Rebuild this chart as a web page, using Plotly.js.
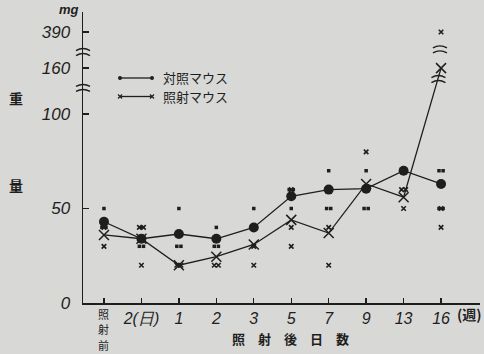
<!DOCTYPE html>
<html><head><meta charset="utf-8">
<script src="https://cdn.plot.ly/plotly-3.0.1.min.js"></script>
<style>html,body{margin:0;padding:0;background:#d8d8d6;}</style>
</head><body><div id="chart" style="width:484px;height:354px;"></div>
<script>
// ---- data (mg) ----
const categories = ['照射前','2(日)','1','2','3','5','7','9','13','16'];
const controlMean = [43, 34, 36.5, 34, 40, 56.5, 60, 60.5, 70, 63];
const irradMean   = [36, 34, 20, 24.5, 31, 44, 37, 63, 56, 160];
const controlIndiv = [[50,40,40],[40,30,30],[50,30,30],[40,30,30],[50,40],[60,60,50],[70,60,50,50],[70,60,50,50],[70,70],[70,70,50,50]];
const irradIndiv   = [[40,30],[40,40,20],[20,20],[20,20],[30,20],[60,40,30],[40,20],[80,60],[60,60,50],[40,50,390]];
const yTickVals  = [0, 50, 100, 160, 390];
const yTickText  = ['0','50','100','160','390'];
const legendNames = ['対照マウス','照射マウス'];

// broken-axis scale
function Y(v){ if (v > 300) return 143.4 + (v-390)*0.05; if (v > 130) return 124.3 + (v-160)*0.1; return v; }
const INK = '#1e1e1e';
const BG = '#d8d8d6';

function spread(groups){
  const xs=[], ys=[];
  groups.forEach((vals,i)=>{
    const cnt={}; vals.forEach(v=>cnt[v]=(cnt[v]||0)+1);
    const seen={};
    vals.forEach(v=>{
      const n=cnt[v]; const k=(seen[v]=(seen[v]||0)+1)-1;
      xs.push(i + (k-(n-1)/2)*0.11); ys.push(Y(v));
    });
  });
  return {xs, ys};
}
const ci = spread(controlIndiv), ii = spread(irradIndiv);
const idx = categories.map((c,i)=>i);

const traces = [
  {x: ci.xs, y: ci.ys, mode:'markers', type:'scatter', marker:{symbol:'square', size:3.5, color:INK}, showlegend:false},
  {x: ii.xs, y: ii.ys, mode:'markers', type:'scatter', marker:{symbol:'x-thin-open', size:4.5, line:{width:1.6,color:INK}, color:INK}, showlegend:false},
  {x: idx, y: controlMean.map(Y), mode:'lines+markers', type:'scatter', name:legendNames[0],
   line:{color:INK, width:1.3}, marker:{symbol:'circle', size:10, color:INK}, showlegend:false},
  {x: idx, y: irradMean.map(Y), mode:'lines+markers', type:'scatter', name:legendNames[1],
   line:{color:INK, width:1.3}, marker:{symbol:'x-thin-open', size:10, line:{width:1.5,color:INK}, color:INK}, showlegend:false}
];

const L=83, R=4, T=12, B=51, W=484, H=354;
const pw=W-L-R, ph=H-T-B;
const px = p => (p-L)/pw;      // pixel -> paper x
const py = p => (H-B-p)/ph;    // pixel -> paper y

function brk(xref, xa, ya){
  return [-2.5, 2.5].map(d=>({type:'path', xref:xref, yref:'y', xsizemode:'pixel', ysizemode:'pixel',
    xanchor:xa, yanchor:ya, path:`M-7,${d-1} Q0,${d+3} 7,${d-1}`, line:{color:INK,width:1.4}}));
}
const shapes = [].concat(
  brk('paper', 0, 113.8), brk('paper', 0, 132.8),
  brk('x', 8.93, 118.5), brk('x', 8.97, 134.2),
  [
    {type:'line', xref:'paper', yref:'paper', x0:px(120), x1:px(152), y0:py(78), y1:py(78), line:{color:INK,width:1.3}},
    {type:'line', xref:'paper', yref:'paper', x0:px(120), x1:px(152), y0:py(96.5), y1:py(96.5), line:{color:INK,width:1.3}},
    {type:'circle', xref:'paper', yref:'paper', xsizemode:'pixel', ysizemode:'pixel', xanchor:px(120), yanchor:py(78), x0:-2, x1:2, y0:-2, y1:2, fillcolor:INK, line:{width:0}},
    {type:'circle', xref:'paper', yref:'paper', xsizemode:'pixel', ysizemode:'pixel', xanchor:px(152), yanchor:py(78), x0:-2, x1:2, y0:-2, y1:2, fillcolor:INK, line:{width:0}},
    {type:'path', xref:'paper', yref:'paper', xsizemode:'pixel', ysizemode:'pixel', xanchor:px(120), yanchor:py(96.5), path:'M-2,-2 L2,2 M-2,2 L2,-2', line:{color:INK,width:1.2}},
    {type:'path', xref:'paper', yref:'paper', xsizemode:'pixel', ysizemode:'pixel', xanchor:px(152), yanchor:py(96.5), path:'M-2,-2 L2,2 M-2,2 L2,-2', line:{color:INK,width:1.2}}
  ]
);

const cjk = 'Noto Sans CJK JP';
const firstLabelChars = Array.from(categories[0]);
const annotations = firstLabelChars.map((ch,k)=>(
  {text:ch, xref:'x', yref:'paper', x:0, y:py(314 + k*15.5), xanchor:'center', yanchor:'middle', showarrow:false, font:{family:cjk, size:11, color:INK}}
)).concat([
  {text:'(週)', xref:'x', yref:'paper', x:9.75, y:py(314), xanchor:'center', yanchor:'middle', showarrow:false, font:{family:cjk, size:14, color:INK, weight:700}},
  {text:'照　射　後　日　数', xref:'paper', yref:'paper', x:px(290.5), y:py(338), xanchor:'center', yanchor:'middle', showarrow:false, font:{family:cjk, size:13, color:INK, weight:700}},
  {text:'重', xref:'paper', yref:'paper', x:px(16), y:py(98), xanchor:'center', yanchor:'middle', showarrow:false, font:{family:cjk, size:14, color:INK, weight:700}},
  {text:'量', xref:'paper', yref:'paper', x:px(16), y:py(185), xanchor:'center', yanchor:'middle', showarrow:false, font:{family:cjk, size:14, color:INK, weight:700}},
  {text:'mg', xref:'paper', yref:'paper', x:px(69), y:py(9), xanchor:'center', yanchor:'middle', showarrow:false, font:{family:'Liberation Sans', size:13, color:INK, style:'italic', weight:700}},
  {text:legendNames[0], xref:'paper', yref:'paper', x:px(161), y:py(78), xanchor:'left', yanchor:'middle', showarrow:false, font:{family:cjk, size:13, color:INK}},
  {text:legendNames[1], xref:'paper', yref:'paper', x:px(161), y:py(96.5), xanchor:'left', yanchor:'middle', showarrow:false, font:{family:cjk, size:13, color:INK}}
]);

const layout = {
  width:W, height:H, margin:{l:L, r:R, t:T, b:B, pad:0},
  paper_bgcolor:BG, plot_bgcolor:BG, showlegend:false,
  xaxis:{range:[-0.56, 10.04], tickvals:idx, ticktext:categories.map((c,i)=>i===0?'':c),
    showline:true, linecolor:INK, linewidth:1.5, ticks:'inside', ticklen:5, tickwidth:1.3, tickcolor:INK,
    showgrid:false, zeroline:false, tickfont:{family:'Liberation Sans', size:16, color:INK, style:'italic'}},
  yaxis:{range:[0, 154], tickvals:yTickVals.map(Y), ticktext:yTickText,
    showline:true, linecolor:INK, linewidth:1.5, ticks:'inside', ticklen:6, tickwidth:1.3, tickcolor:INK,
    showgrid:false, zeroline:false, ticklabelstandoff:8, tickfont:{family:'Liberation Sans', size:17, color:INK, style:'italic'}},
  shapes:shapes, annotations:annotations
};
Plotly.newPlot('chart', traces, layout, {staticPlot:true, displayModeBar:false});
</script></body></html>
